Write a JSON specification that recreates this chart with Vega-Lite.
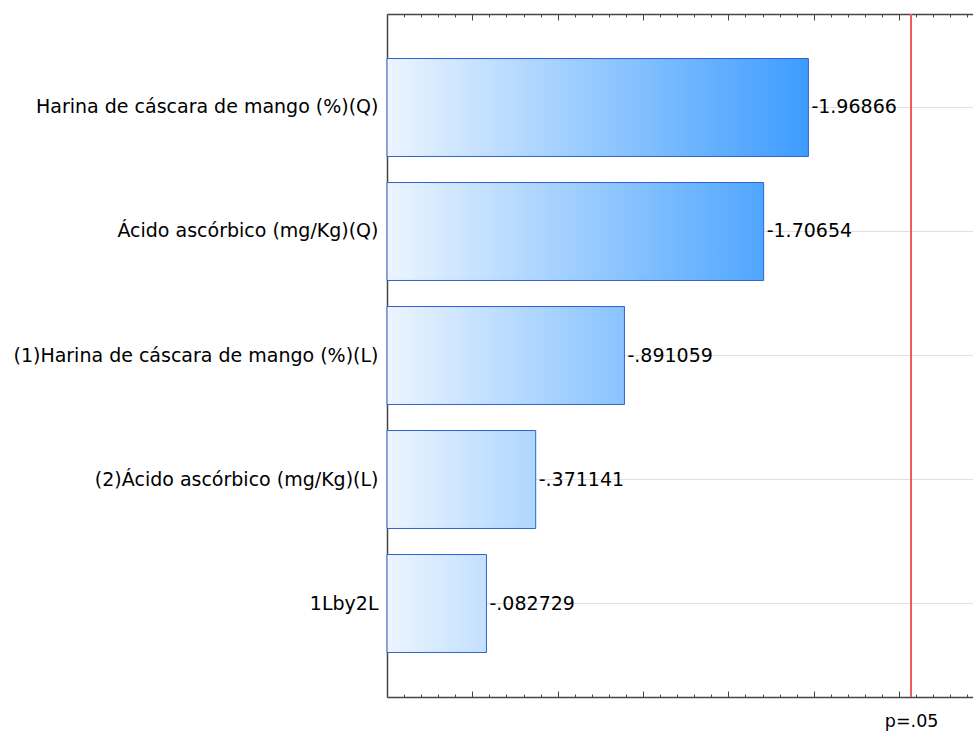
{
  "$schema": "https://vega.github.io/schema/vega-lite/v6.json",
  "autosize": {"type": "none"},
  "padding": {"left": 387, "top": 14, "right": 0, "bottom": 34},
  "width": 586,
  "height": 683,
  "background": "white",
  "config": {"view": {"stroke": null}, "font": "DejaVu Sans"},
  "data": {"values": [
    {"term": "Harina de cáscara de mango (%)(Q)", "effect": 1.96866, "label": "-1.96866"},
    {"term": "Ácido ascórbico (mg/Kg)(Q)", "effect": 1.70654, "label": "-1.70654"},
    {"term": "(1)Harina de cáscara de mango (%)(L)", "effect": 0.891059, "label": "-.891059"},
    {"term": "(2)Ácido ascórbico (mg/Kg)(L)", "effect": 0.371141, "label": "-.371141"},
    {"term": "1Lby2L", "effect": 0.082729, "label": "-.082729"}
  ]},
  "resolve": {"axis": {"x": "independent"}},
  "layer": [
    {
      "mark": {"type": "bar", "stroke": "#2f62d0", "strokeWidth": 1},
      "encoding": {
        "y": {
          "field": "term", "type": "nominal", "sort": null,
          "scale": {"paddingInner": 0.21, "paddingOuter": 0.359},
          "axis": {
            "title": null, "grid": true, "gridColor": "#e0e0e0", "gridWidth": 1,
            "bandPosition": 0.5,
            "labelFont": "DejaVu Sans",
            "labelFontSize": 19, "labelColor": "#000000", "labelLimit": 500,
            "labelPadding": 14, "domainColor": "#444444", "domainWidth": 1.5,
            "tickSize": -5, "tickColor": "#444444", "tickWidth": 1
          }
        },
        "x": {
          "field": "effect", "type": "quantitative",
          "scale": {"domain": [-0.5, 2.933], "nice": false, "zero": false},
          "axis": {
            "orient": "bottom", "title": null, "grid": false,
            "values": [-0.5,-0.4,-0.3,-0.2,-0.1,0,0.1,0.2,0.3,0.4,0.5,0.6,0.7,0.8,0.9,1,1.1,1.2,1.3,1.4,1.5,1.6,1.7,1.8,1.9,2,2.1,2.2,2.3,2.4,2.5,2.6,2.7,2.8,2.9,2.5706],
            "labelExpr": "abs(datum.value - 2.5706) < 0.0001 ? 'p=.05' : ''",
            "labelFont": "DejaVu Sans",
            "labelFontSize": 17.5, "labelColor": "#000000", "labelBaseline": "top",
            "labelPadding": 18, "labelFlush": false, "labelOverlap": false,
            "domainColor": "#444444", "domainWidth": 1.5,
            "tickColor": "#444444", "tickWidth": 1,
            "tickSize": {"condition": {"test": "abs(datum.value*2 - round(datum.value*2)) < 0.001", "value": -6}, "value": -3},
            "tickOpacity": {"condition": {"test": "abs(datum.value - 2.5706) < 0.0001", "value": 0}, "value": 1}
          }
        },
        "x2": {"datum": -0.5},
        "fill": {
          "condition": [
            {"test": "datum.term === 'Harina de cáscara de mango (%)(Q)'", "value": {"gradient": "linear", "x1": 0, "y1": 0, "x2": 1, "y2": 0, "stops": [{"offset": 0, "color": "#ecf5ff"}, {"offset": 1, "color": "#3d9cff"}]}},
            {"test": "datum.term === 'Ácido ascórbico (mg/Kg)(Q)'", "value": {"gradient": "linear", "x1": 0, "y1": 0, "x2": 1, "y2": 0, "stops": [{"offset": 0, "color": "#ecf5ff"}, {"offset": 1, "color": "#50a6ff"}]}},
            {"test": "datum.term === '(1)Harina de cáscara de mango (%)(L)'", "value": {"gradient": "linear", "x1": 0, "y1": 0, "x2": 1, "y2": 0, "stops": [{"offset": 0, "color": "#ecf5ff"}, {"offset": 1, "color": "#89c3ff"}]}},
            {"test": "datum.term === '(2)Ácido ascórbico (mg/Kg)(L)'", "value": {"gradient": "linear", "x1": 0, "y1": 0, "x2": 1, "y2": 0, "stops": [{"offset": 0, "color": "#ecf5ff"}, {"offset": 1, "color": "#aed6ff"}]}}
          ],
          "value": {"gradient": "linear", "x1": 0, "y1": 0, "x2": 1, "y2": 0, "stops": [{"offset": 0, "color": "#ecf5ff"}, {"offset": 1, "color": "#c3e0ff"}]}
        }
      }
    },
    {
      "mark": {"type": "text", "align": "left", "baseline": "middle", "dx": 3, "fontSize": 19, "font": "DejaVu Sans", "color": "#000000"},
      "encoding": {
        "y": {"field": "term", "type": "nominal", "sort": null},
        "x": {"field": "effect", "type": "quantitative", "axis": null},
        "text": {"field": "label", "type": "nominal"}
      }
    },
    {
      "mark": {"type": "rule", "color": "#f05a5a", "strokeWidth": 1.5},
      "encoding": {
        "x": {
          "datum": 2.5706, "type": "quantitative",
          "axis": {
            "orient": "top", "title": null, "grid": false, "labels": false,
            "values": [-0.5,-0.4,-0.3,-0.2,-0.1,0,0.1,0.2,0.3,0.4,0.5,0.6,0.7,0.8,0.9,1,1.1,1.2,1.3,1.4,1.5,1.6,1.7,1.8,1.9,2,2.1,2.2,2.3,2.4,2.5,2.6,2.7,2.8,2.9],
            "domainColor": "#444444", "domainWidth": 1.5,
            "tickColor": "#444444", "tickWidth": 1,
            "tickSize": {"condition": {"test": "abs(datum.value*2 - round(datum.value*2)) < 0.001", "value": -6}, "value": -3}
          }
        }
      }
    }
  ]
}
